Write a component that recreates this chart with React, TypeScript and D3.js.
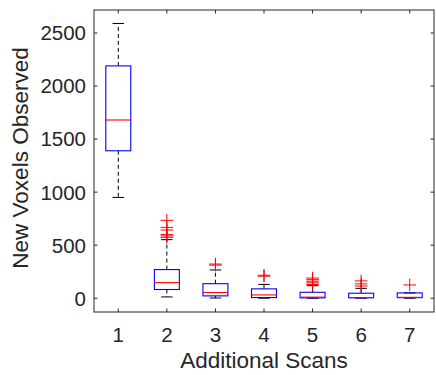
import React from "react";
import * as d3 from "d3";

const categories = ["1", "2", "3", "4", "5", "6", "7"];
const whiskerLow = [950, 12, 2, 0, 0, 0, 0];
const q1 = [1390, 82, 22, 6, 3, 4, 5];
const medians = [1680, 147, 53, 31, 10, 6, 8];
const q3 = [2190, 270, 137, 88, 56, 47, 50];
const whiskerHigh = [2590, 552, 266, 130, 118, 93, 50];
const outliers = [
  [],
  [574, 588, 602, 643, 668, 734],
  [312, 322],
  [208, 216],
  [130, 145, 160, 175, 190],
  [115, 135, 163],
  [125],
];
const yTicks = [0, 500, 1000, 1500, 2000, 2500];

const W = 436;
const H = 375;
const L = 94, R = 434, T = 10, B = 312;
const axisColor = "#262626";
const font = "'Liberation Sans', Arial, Helvetica, sans-serif";

export default function App() {
  const x = d3.scaleLinear().domain([0.5, categories.length + 0.5]).range([L, R]);
  const y = d3.scaleLinear().domain([-130, 2717]).range([B, T]);
  const halfBox = 0.257;
  const halfCap = 0.118;
  const plus = 6.3;
  const tickLen = 3.5;

  return (
    <svg width={W} height={H} style={{ position: "absolute", left: 0, top: 0, background: "#fff" }}>
      <rect x={0} y={0} width={W} height={H} fill="#fff" />
      <rect x={L} y={T} width={R - L} height={B - T} fill="#fff" />
      {categories.map((c, i) => {
        const cx = x(i + 1);
        return (
          <g key={c}>
            <line x1={cx} x2={cx} y1={y(q3[i])} y2={y(whiskerHigh[i])} stroke="#000" strokeWidth={1} strokeDasharray="4,3" />
            <line x1={cx} x2={cx} y1={y(q1[i])} y2={y(whiskerLow[i])} stroke="#000" strokeWidth={1} strokeDasharray="4,3" />
            <line x1={x(i + 1 - halfCap)} x2={x(i + 1 + halfCap)} y1={y(whiskerHigh[i])} y2={y(whiskerHigh[i])} stroke="#000" strokeWidth={1} />
            <line x1={x(i + 1 - halfCap)} x2={x(i + 1 + halfCap)} y1={y(whiskerLow[i])} y2={y(whiskerLow[i])} stroke="#000" strokeWidth={1} />
            <rect
              x={x(i + 1 - halfBox)}
              y={y(q3[i])}
              width={x(i + 1 + halfBox) - x(i + 1 - halfBox)}
              height={Math.max(0.5, y(q1[i]) - y(q3[i]))}
              fill="none"
              stroke="#0000ff"
              strokeWidth={1.1}
            />
            <line x1={x(i + 1 - halfBox)} x2={x(i + 1 + halfBox)} y1={y(medians[i])} y2={y(medians[i])} stroke="#ff0000" strokeWidth={1.1} />
            {outliers[i].map((v, j) => (
              <g key={j} stroke="#ff0000" strokeWidth={1}>
                <line x1={cx - plus} x2={cx + plus} y1={y(v)} y2={y(v)} />
                <line x1={cx} x2={cx} y1={y(v) - plus} y2={y(v) + plus} />
              </g>
            ))}
          </g>
        );
      })}
      <rect x={L} y={T} width={R - L} height={B - T} fill="none" stroke={axisColor} strokeWidth={1} />
      {categories.map((c, i) => (
        <g key={"xt" + c}>
          <line x1={x(i + 1)} x2={x(i + 1)} y1={B} y2={B - tickLen} stroke={axisColor} />
          <line x1={x(i + 1)} x2={x(i + 1)} y1={T} y2={T + tickLen} stroke={axisColor} />
          <text x={x(i + 1)} y={341.5} textAnchor="middle" fontFamily={font} fontSize={20.5} fill={axisColor}>
            {c}
          </text>
        </g>
      ))}
      {yTicks.map((t) => (
        <g key={"yt" + t}>
          <line x1={L} x2={L + tickLen} y1={y(t)} y2={y(t)} stroke={axisColor} />
          <line x1={R} x2={R - tickLen} y1={y(t)} y2={y(t)} stroke={axisColor} />
          <text x={L - 8} y={y(t)} dy="0.36em" textAnchor="end" fontFamily={font} fontSize={20.5} fill={axisColor}>
            {t}
          </text>
        </g>
      ))}
      <text x={(L + R) / 2} y={368} textAnchor="middle" fontFamily={font} fontSize={22.5} fill={axisColor}>
        Additional Scans
      </text>
      <text
        transform={`translate(28,${(T + B) / 2 - 3}) rotate(-90)`}
        textAnchor="middle"
        fontFamily={font}
        fontSize={22.5}
        fill={axisColor}
      >
        New Voxels Observed
      </text>
    </svg>
  );
}
